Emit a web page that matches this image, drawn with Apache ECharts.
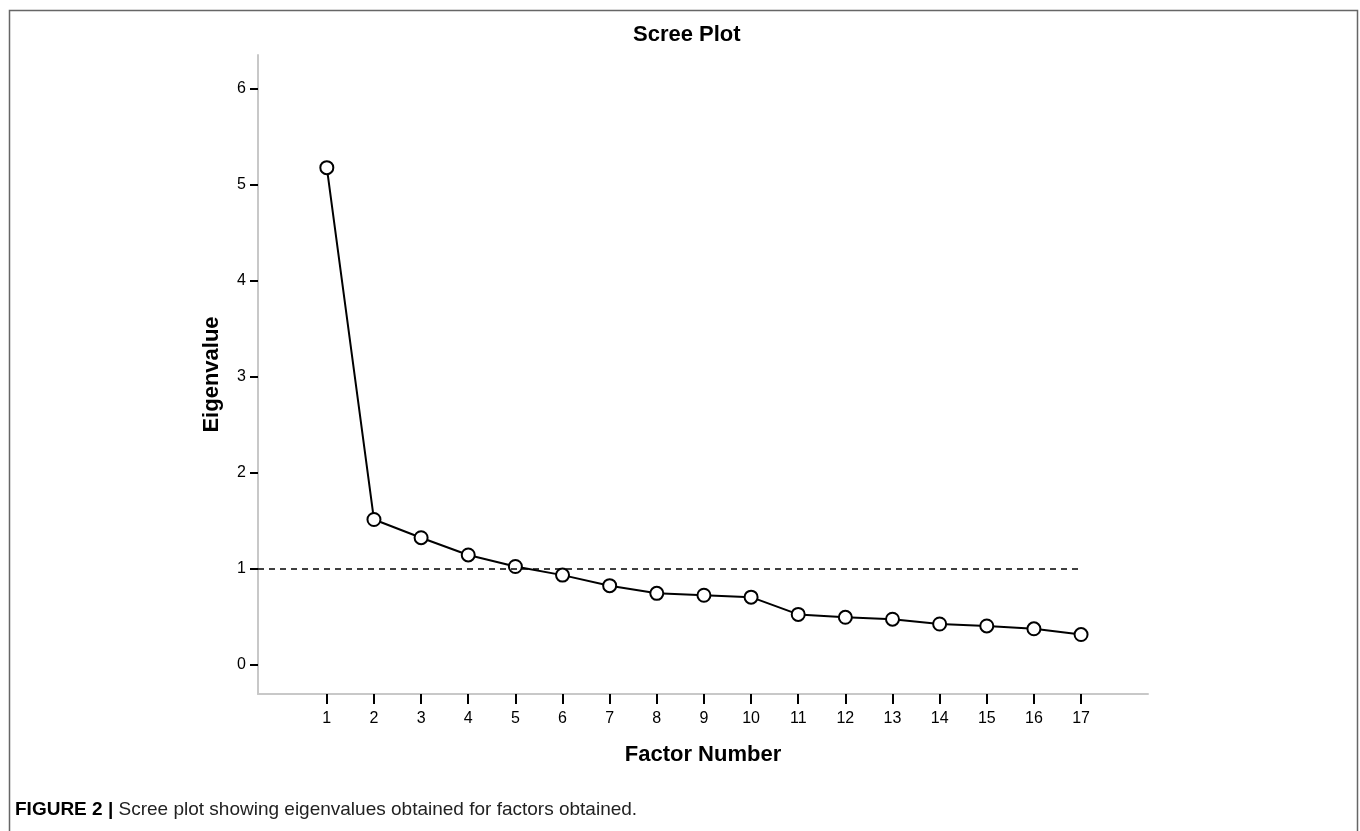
<!DOCTYPE html>
<html>
<head>
<meta charset="utf-8">
<script src="https://cdn.jsdelivr.net/npm/echarts@6/dist/echarts.min.js"></script>
<style>
html,body{margin:0;padding:0;background:#fff;}
#chart{width:1360px;height:831px;}
</style>
</head>
<body>
<div id="chart"></div>
<script>
const factors = [1,2,3,4,5,6,7,8,9,10,11,12,13,14,15,16,17];
const eigenvalues = [5.18,1.51,1.32,1.14,1.02,0.93,0.82,0.74,0.72,0.70,0.52,0.49,0.47,0.42,0.40,0.37,0.31];
const yTicks = [0,1,2,3,4,5,6];
const cutoff = 1;
const chartTitle = 'Scree Plot';
const xName = 'Factor Number';
const yName = 'Eigenvalue';
const captionBold = 'FIGURE 2 |';
const captionText = ' Scree plot showing eigenvalues obtained for factors obtained.';

const chart = echarts.init(document.getElementById('chart'));
const sans = '"Liberation Sans", Arial, sans-serif';

chart.setOption({
  animation: false,
  backgroundColor: '#fff',
  grid: {left: 258, right: 212, top: 55, bottom: 137, containLabel: false},
  xAxis: {
    type: 'value', min: -0.46, max: 18.42,
    name: xName, nameLocation: 'middle', nameGap: 50,
    nameTextStyle: {fontFamily: sans, fontWeight: 'bold', fontSize: 22, color: '#000'},
    axisLine: {show: true, onZero: false, lineStyle: {color: '#c8c8c8', width: 2}},
    axisTick: {show: true, customValues: factors, length: 10, lineStyle: {color: '#000', width: 2}},
    axisLabel: {customValues: factors, fontFamily: sans, fontSize: 16, color: '#000', margin: 17},
    splitLine: {show: false}
  },
  yAxis: {
    type: 'value', min: -0.31, max: 6.355,
    name: yName, nameLocation: 'middle', nameGap: 35, nameRotate: 90,
    nameTextStyle: {fontFamily: sans, fontWeight: 'bold', fontSize: 22, color: '#000'},
    axisLine: {show: true, onZero: false, lineStyle: {color: '#c8c8c8', width: 2}},
    axisTick: {show: true, customValues: yTicks, length: 8, lineStyle: {color: '#000', width: 2}},
    axisLabel: {customValues: yTicks, fontFamily: sans, fontSize: 16, color: '#000', margin: 12},
    splitLine: {show: false}
  },
  series: [{
    type: 'line',
    data: factors.map((f, i) => [f, eigenvalues[i]]),
    symbol: 'emptyCircle', symbolSize: 13,
    lineStyle: {color: '#000', width: 2},
    itemStyle: {color: '#000', borderColor: '#000', borderWidth: 1.8},
    z: 3,
    markLine: {
      silent: true, symbol: 'none', label: {show: false},
      lineStyle: {color: '#000', width: 1.5, type: [6, 5]},
      data: [[{coord: [-0.46, cutoff]}, {coord: [factors[factors.length - 1], cutoff]}]]
    }
  }],
  graphic: [
    {type: 'rect', left: 7, top: 8, z: -1, silent: true,
     shape: {width: 1348, height: 840},
     style: {fill: 'none', stroke: '#666', lineWidth: 1.5}},
    {type: 'text', left: 633, top: 24, style: {
      text: chartTitle, fill: '#000', font: 'bold 22px ' + sans}},
    {type: 'text', left: 15, top: 800, style: {
      text: '{b|' + captionBold + '}{r|' + captionText + '}',
      rich: {
        b: {font: 'bold 19px ' + sans, fill: '#000'},
        r: {font: '19px ' + sans, fill: '#222'}
      }}}
  ]
});
</script>
</body>
</html>
